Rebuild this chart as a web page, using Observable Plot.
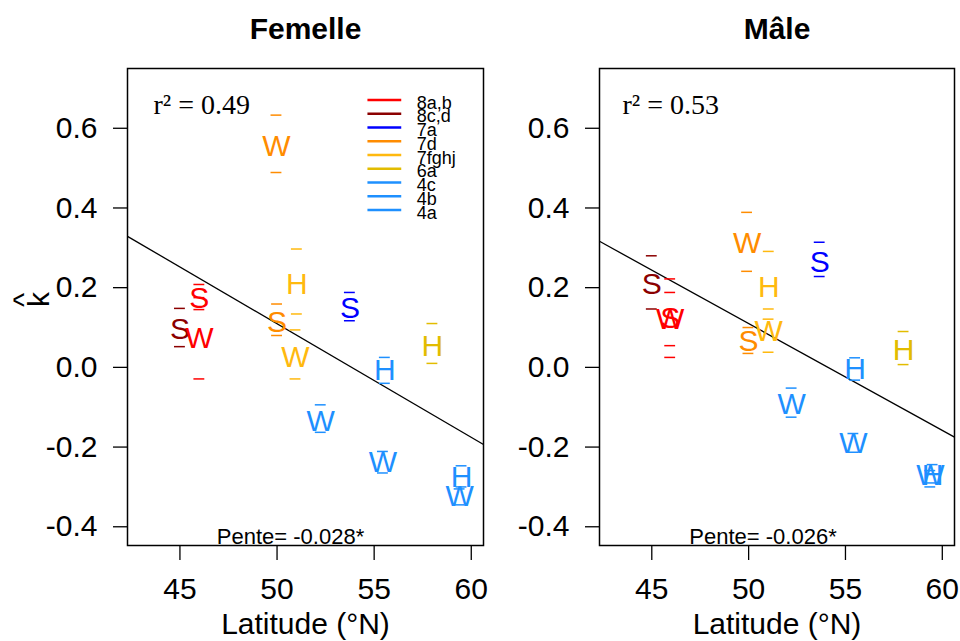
<!DOCTYPE html>
<html><head><meta charset="utf-8">
<script src="https://cdn.jsdelivr.net/npm/d3@7"></script>
<script src="https://cdn.jsdelivr.net/npm/@observablehq/plot@0.6"></script>
<style>
body{margin:0;background:#fff;}
#wrap{position:relative;width:960px;height:641px;overflow:hidden;background:#fff;}
#wrap svg{position:absolute;top:0;}
</style></head><body><div id="wrap"></div>
<script>
// Areas (legend) and their colours
const areas = ["8a,b","8c,d","7a","7d","7fghj","6a","4c","4b","4a"];
const areaColors = ["#FF0000","#8B0000","#0000FF","#FF8C00","#FFB90F","#E2BC00","#1E90FF","#1E90FF","#1E90FF"];

// Femelle
const femArea   = ["8a,b","8c,d","8a,b","7d","7d","7fghj","7fghj","7a","6a","4b","4c","4b","4a","4a"];
const femSeason = ["S","S","W","S","W","H","W","S","H","H","W","W","H","W"];
const femLat    = [46.0, 45.0, 46.0, 50.0, 49.97, 51.02, 50.95, 53.75, 58.0, 55.55, 52.25, 55.45, 59.5, 59.4];
const femK      = [0.172, 0.095, 0.073, 0.112, 0.555, 0.208, 0.024, 0.147, 0.053, -0.008, -0.135, -0.238, -0.275, -0.325];
const femLo     = [0.145, 0.052, -0.029, 0.080, 0.489, 0.134, -0.029, 0.117, 0.010, -0.040, -0.163, -0.265, -0.300, -0.345];
const femHi     = [0.208, 0.148, 0.175, 0.159, 0.633, 0.297, 0.094, 0.188, 0.110, 0.025, -0.094, -0.211, -0.247, -0.305];

// Mâle
const maleArea   = ["8c,d","8a,b","8a,b","7d","7fghj","7fghj","7d","7a","6a","4b","4c","4b","4a","4a"];
const maleSeason = ["S","S","W","W","H","W","S","S","H","H","W","W","H","W"];
const maleLat    = [45.0, 45.95, 45.95, 49.92, 51.04, 51.03, 49.99, 53.67, 58.0, 55.5, 52.22, 55.41, 59.5, 59.38];
const maleK      = [0.209, 0.123, 0.120, 0.310, 0.200, 0.091, 0.066, 0.263, 0.042, -0.005, -0.093, -0.190, -0.272, -0.272];
const maleLo     = [0.1465, 0.025, 0.0545, 0.241, 0.1465, 0.038, 0.035, 0.228, 0.007, -0.032, -0.125, -0.213, -0.290, -0.300];
const maleHi     = [0.280, 0.222, 0.188, 0.389, 0.291, 0.121, 0.100, 0.314, 0.090, 0.024, -0.052, -0.166, -0.244, -0.259];

// Regression results
const panelTitles = ["Femelle", "Mâle"];
const r2Values    = ["0.49", "0.53"];
const slopes      = [-0.0285, -0.0268];
const intercepts  = [1.5344, 1.4500];
const penteLabels = ["Pente= -0.028*", "Pente= -0.026*"];

// Axes
const xTicks = [45, 50, 55, 60];
const yTicks = [-0.4, -0.2, 0.0, 0.2, 0.4, 0.6];
const xDomain = [42.3, 60.63];
const yDomain = [-0.447, 0.75];
const xLabel = "Latitude (°N)";

function rows(area, season, lat, k, lo, hi) {
  return area.map((a, i) => ({area: a, season: season[i], lat: lat[i], k: k[i], lo: lo[i], hi: hi[i]}));
}

const FONT = "'Liberation Sans', Arial, Helvetica, sans-serif";
const SERIF = "'Liberation Serif', 'Times New Roman', serif";

function panel(idx, data, opts) {
  const fit = {a: intercepts[idx], b: slopes[idx]};
  const legendRows = areas.map((a, i) => ({area: a, i}));
  const marks = [
    Plot.axisX({ticks: xTicks, tickSize: 15, tickPadding: 17, tickFormat: d => String(d), label: null, strokeWidth: 1.3}),
    Plot.axisY({ticks: yTicks, tickSize: 14, tickPadding: 16, tickFormat: d => d.toFixed(1), label: null, strokeWidth: 1.3}),
    Plot.link([fit], {
      x1: () => xDomain[0], y1: d => d.a + d.b * xDomain[0],
      x2: () => xDomain[1], y2: d => d.a + d.b * xDomain[1],
      stroke: "black", strokeWidth: 1.3
    }),
    Plot.ruleY(data, {y: "hi", x1: d => d.lat - 0.28, x2: d => d.lat + 0.28, stroke: "area", strokeWidth: 1.5}),
    Plot.ruleY(data, {y: "lo", x1: d => d.lat - 0.28, x2: d => d.lat + 0.28, stroke: "area", strokeWidth: 1.5}),
    Plot.text(data, {x: "lat", y: "k", text: "season", fill: "area", fontSize: 30, lineAnchor: "middle"}),
    Plot.text([panelTitles[idx]], {frameAnchor: "top", dy: -30, lineAnchor: "bottom", fontWeight: "bold", fontSize: 30}),
    Plot.text([xLabel], {frameAnchor: "bottom", dy: 88, lineAnchor: "bottom", fontSize: 30}),
    Plot.text(["r² = " + r2Values[idx]], {frameAnchor: "top-left", dx: opts.r2dx, dy: 45, textAnchor: "start", lineAnchor: "bottom", fontFamily: SERIF, fontSize: 28}),
    Plot.text([penteLabels[idx]], {frameAnchor: "bottom", dx: opts.penteDx, dy: -2, lineAnchor: "bottom", fontSize: 22})
  ];
  if (opts.ylabel) {
    marks.push(Plot.text(["k"], {frameAnchor: "left", dx: -79, rotate: -90, lineAnchor: "bottom", fontSize: 30}));
    marks.push(Plot.text(["^"], {frameAnchor: "left", dx: -94, rotate: -90, lineAnchor: "bottom", fontSize: 30}));
  }
  if (opts.legend) {
    const LY0 = 0.671, LDY = 0.0345;
    marks.push(Plot.ruleY(legendRows, {y: d => LY0 - d.i * LDY, x1: () => 54.68, x2: () => 56.42, stroke: "area", strokeWidth: 2.6}));
    marks.push(Plot.text(legendRows, {x: () => 57.19, y: d => LY0 - d.i * LDY - 0.007, text: "area", textAnchor: "start", lineAnchor: "middle", fontSize: 18}));
  }
  marks.push(Plot.frame({stroke: "black", strokeWidth: 1.5}));
  return Plot.plot({
    width: opts.width, height: 641,
    marginLeft: opts.marginLeft, marginRight: opts.marginRight, marginTop: 68, marginBottom: 96,
    x: {domain: xDomain},
    y: {domain: yDomain},
    color: {type: "ordinal", domain: areas, range: areaColors},
    style: {fontFamily: FONT, fontSize: "30px", background: "transparent", overflow: "visible"},
    marks
  });
}

const wrap = document.getElementById("wrap");
const p1 = panel(0, rows(femArea, femSeason, femLat, femK, femLo, femHi), {width: 486, marginLeft: 127, marginRight: 3, ylabel: true, legend: true, r2dx: 26, penteDx: -15});
p1.style.left = "0px";
const p2 = panel(1, rows(maleArea, maleSeason, maleLat, maleK, maleLo, maleHi), {width: 474, marginLeft: 113, marginRight: 6, ylabel: false, legend: false, r2dx: 23, penteDx: -14});
p2.style.left = "486px";
wrap.appendChild(p1);
wrap.appendChild(p2);
</script></body></html>
